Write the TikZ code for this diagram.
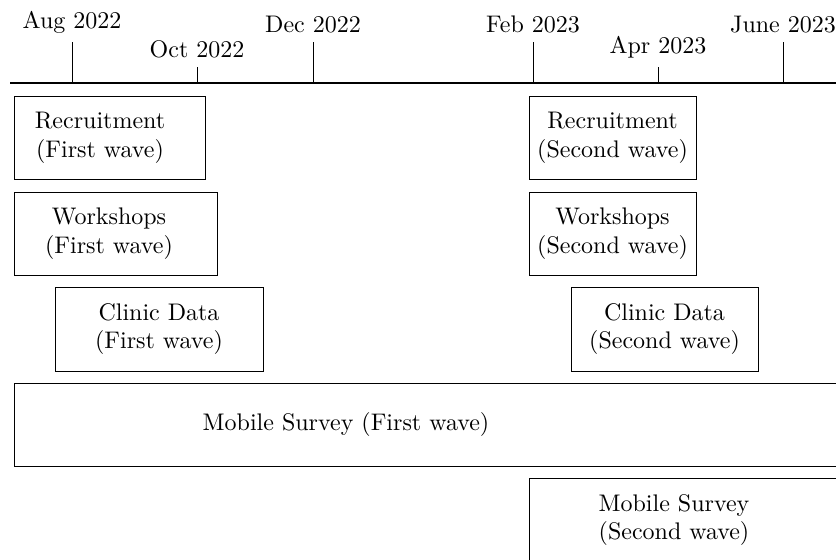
\documentclass[tikz,border=0pt]{standalone}
\usepackage{tikz}
\usetikzlibrary{positioning, fit}
\newcommand{\phase}[3]
{
	\node[box, fit={(#2) (#3)}] (#1){}
}

\begin{document}
\begin{tikzpicture}[x=0.4167pt, y=-0.4167pt,
every node/.append style={shape=rectangle, align=center},
box/.style={draw, inner sep=0pt, line width=0.4pt}]

\useasboundingbox (0,0) rectangle (836,560);
\clip (0,0) rectangle (836,560);

% time line
\coordinate (start) at (10,83);
\coordinate (end) at (850,83);
\draw[line width=0.9pt] (start) -- (end);

\draw (72,83)  -- ++(0,-41) node[above] (Aug){Aug 2022};
\draw (197,83) -- ++(0,-16) node[above] (Oct){Oct 2022};
\draw (313,83) -- ++(0,-41) node[above] (Dec){Dec 2022};
\draw (533,83) -- ++(0,-41) node[above] (Feb){Feb 2023};
\draw (658,83) -- ++(0,-16) node[above] (Apr){Apr 2023};
\draw (783,83) -- ++(0,-41) node[above] (Jun){June 2023};

% first wave
\phase{R1box}{14,96}{205,179};
\node at (100,137.5) (R1){Recruitment\\(First wave)};
\phase{W1box}{14,192}{217,275};
\node at (109,233.5) (W1){Workshops\\(First wave)};
\phase{C1box}{55,287}{263,371};
\node at (159,329) (C1){Clinic Data\\(First wave)};
\phase{M1box}{14,383}{880,466};
\node at (346,424.5) (M1){Mobile Survey (First wave)};

% second wave
\phase{R2box}{529,96}{696,179};
\node at (612.5,137.5) (R2){Recruitment\\(Second wave)};
\phase{W2box}{529,192}{696,275};
\node at (612.5,233.5) (W2){Workshops\\(Second wave)};
\phase{C2box}{571,287}{758,371};
\node at (664.5,329) (C2){Clinic Data\\(Second wave)};
\phase{M2box}{529,478}{880,600};
\node at (674,520) (M2){Mobile Survey\\(Second wave)};
\end{tikzpicture}
\end{document}
